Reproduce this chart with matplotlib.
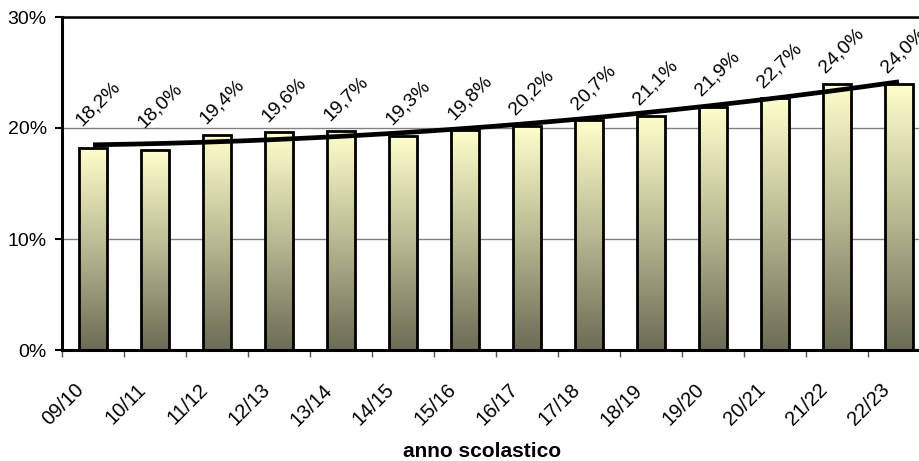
import numpy as np
import matplotlib
matplotlib.use("Agg")
import matplotlib.pyplot as plt
from matplotlib.colors import LinearSegmentedColormap

plt.rcParams['font.family'] = ['Liberation Sans', 'DejaVu Sans']

years = ['09/10', '10/11', '11/12', '12/13', '13/14', '14/15', '15/16',
         '16/17', '17/18', '18/19', '19/20', '20/21', '21/22', '22/23']
share = [18.2, 18.0, 19.4, 19.6, 19.7, 19.3, 19.8,
         20.2, 20.7, 21.1, 21.9, 22.7, 24.0, 24.0]
value_labels = ['18,2%', '18,0%', '19,4%', '19,6%', '19,7%', '19,3%', '19,8%',
                '20,2%', '20,7%', '21,1%', '21,9%', '22,7%', '24,0%', '24,0%']
y_ticks = [0, 10, 20, 30]
x_title = 'anno scolastico'

# extra lift (pixels) for labels moved up by hand in the original
label_lift = [11, 12, 0, 0, 0, 0, 0, 0, 0, 0, 0, 0, 0, 0]

W, H = 920, 461
fig = plt.figure(figsize=(W / 100, H / 100), dpi=100)
# plot area runs past the right edge of the picture, like the original crop
ax = fig.add_axes([62 / W, (H - 350) / H, 868 / W, 333 / H])

x = np.arange(len(years))
bar_w = 0.45
cmap = LinearSegmentedColormap.from_list('bar', ['#6c6b55', '#b8b892', '#ffffcc'])
grad = np.linspace(0, 1, 256).reshape(-1, 1)

for xi, v in zip(x, share):
    bar = ax.bar(xi, v, width=bar_w, color='none', edgecolor='black',
                 linewidth=2.0, zorder=3)[0]
    im = ax.imshow(grad, cmap=cmap, origin='lower', aspect='auto',
                   extent=[xi - bar_w / 2, xi + bar_w / 2, 0, v], zorder=2)
    im.set_clip_path(bar)

# polynomial trend line (2nd order)
coef = np.polyfit(x, share, 2)
xs = np.linspace(x[0], x[-1], 200)
ax.plot(xs, np.polyval(coef, xs), color='black', linewidth=3.4,
        solid_capstyle='butt', zorder=4)

for xi, v, lbl, lift in zip(x, share, value_labels, label_lift):
    ax.annotate(lbl, xy=(xi, v), xytext=(5, 33 + lift), textcoords='offset pixels',
                rotation=45, rotation_mode='anchor', ha='center', va='center',
                fontsize=14, zorder=5)

for xi, lbl in zip(x, years):
    ax.annotate(lbl, xy=(xi, 0), xycoords=('data', 'axes fraction'),
                xytext=(-12, -37), textcoords='offset pixels',
                rotation=45, rotation_mode='anchor', ha='right', va='center',
                fontsize=14.5, annotation_clip=False)

ax.set_xlim(-0.5, len(years) - 0.5)
ax.set_ylim(0, 30)
ax.set_xticks(np.arange(len(years) + 1) - 0.5)
ax.set_xticklabels([])
ax.set_yticks(y_ticks)
ax.set_yticklabels([f'{t}%' for t in y_ticks], fontsize=14)
ax.tick_params(axis='x', direction='out', length=5, width=1, color='#555555')
ax.tick_params(axis='y', direction='out', length=5, width=1.5, pad=6)
ax.yaxis.grid(True, color='#808080', linewidth=1)
ax.set_axisbelow(True)

for side in ['left', 'bottom']:
    ax.spines[side].set_linewidth(2.2)
ax.spines['top'].set_linewidth(1.8)
ax.spines['right'].set_visible(False)

fig.text(482 / W, 1 - 451 / H, x_title, ha='center', va='center',
         fontsize=15, fontweight='bold')

fig.savefig('out.png', dpi=100)
